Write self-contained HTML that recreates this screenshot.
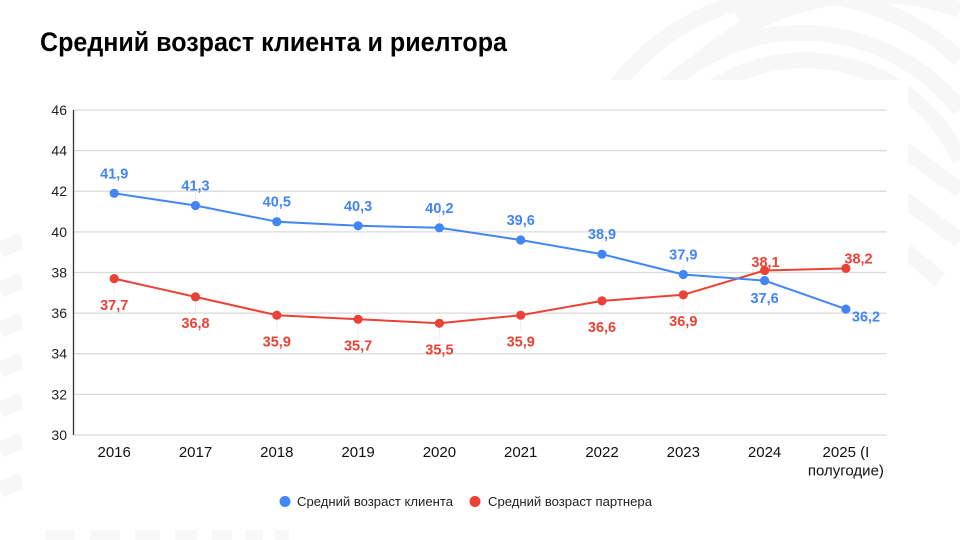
<!DOCTYPE html>
<html>
<head>
<meta charset="utf-8">
<style>
html,body{margin:0;padding:0;background:#fff;}
svg{display:block;}
</style>
</head>
<body>
<svg width="960" height="540" viewBox="0 0 960 540" xmlns="http://www.w3.org/2000/svg" font-family="'Liberation Sans', Arial, sans-serif">
  <!-- faint decorative background -->
  <g fill="none" stroke="#f7f7f7" stroke-width="16">
    <path d="M600,110 A230,230 0 0 1 960,60"/>
    <path d="M620,150 A200,200 0 0 1 960,110"/>
    <path d="M640,190 A170,170 0 0 1 960,160"/>
    <path d="M700,60 A260,260 0 0 1 960,10"/>
    <path d="M740,20 A280,280 0 0 1 960,-30"/>
    <path d="M905,150 L960,190"/>
    <path d="M905,200 L960,240"/>
    <path d="M905,250 L940,280"/>
    <path d="M0,250 L22,240"/>
    <path d="M0,290 L22,280"/>
    <path d="M0,330 L22,320"/>
    <path d="M0,370 L22,360"/>
    <path d="M0,410 L22,400"/>
    <path d="M0,450 L22,440"/>
    <path d="M0,490 L22,480"/>
  </g>
  <g fill="#f8f8f8">
    <rect x="45" y="530" width="30" height="10"/>
    <rect x="90" y="530" width="30" height="10"/>
    <rect x="135" y="530" width="25" height="10"/>
    <rect x="175" y="530" width="22" height="10"/>
    <rect x="212" y="530" width="20" height="10"/>
    <rect x="245" y="530" width="18" height="10"/>
    <rect x="275" y="530" width="14" height="10"/>
  </g>
  <!-- white chart box -->
  <rect x="22" y="80" width="886" height="449" fill="#fff"/>

  <!-- title -->
  <text x="40" y="51" font-size="26.5" font-weight="bold" fill="#000" textLength="467" lengthAdjust="spacingAndGlyphs">Средний возраст клиента и риелтора</text>

  <!-- gridlines -->
  <g stroke="#dadada" stroke-width="1.3">
    <line x1="73.5" y1="110" x2="886.5" y2="110"/>
    <line x1="73.5" y1="150.6" x2="886.5" y2="150.6"/>
    <line x1="73.5" y1="191.25" x2="886.5" y2="191.25"/>
    <line x1="73.5" y1="231.9" x2="886.5" y2="231.9"/>
    <line x1="73.5" y1="272.5" x2="886.5" y2="272.5"/>
    <line x1="73.5" y1="313.1" x2="886.5" y2="313.1"/>
    <line x1="73.5" y1="353.75" x2="886.5" y2="353.75"/>
    <line x1="73.5" y1="394.4" x2="886.5" y2="394.4"/>
    <line x1="73.5" y1="435" x2="886.5" y2="435"/>
  </g>
  <line x1="73.5" y1="110" x2="73.5" y2="435" stroke="#333" stroke-width="1.3"/>

  <!-- y tick labels -->
  <g font-size="14" fill="#222" text-anchor="end">
    <text x="67" y="115">46</text>
    <text x="67" y="155.6">44</text>
    <text x="67" y="196.2">42</text>
    <text x="67" y="236.9">40</text>
    <text x="67" y="277.5">38</text>
    <text x="67" y="318.1">36</text>
    <text x="67" y="358.7">34</text>
    <text x="67" y="399.4">32</text>
    <text x="67" y="440">30</text>
  </g>

  <!-- x labels -->
  <g font-size="15" fill="#111" text-anchor="middle">
    <text x="114.2" y="457">2016</text>
    <text x="195.5" y="457">2017</text>
    <text x="276.8" y="457">2018</text>
    <text x="358.1" y="457">2019</text>
    <text x="439.4" y="457">2020</text>
    <text x="520.7" y="457">2021</text>
    <text x="602.0" y="457">2022</text>
    <text x="683.3" y="457">2023</text>
    <text x="764.6" y="457">2024</text>
    <text x="845.9" y="457">2025 (I</text>
    <text x="845.9" y="475.5">полугодие)</text>
  </g>

  <!-- leader lines -->
  <g stroke="#eeeeee" stroke-width="1">
    <line x1="114.2" y1="178" x2="114.2" y2="189"/>
    <line x1="195.5" y1="190" x2="195.5" y2="201"/>
    <line x1="276.8" y1="206" x2="276.8" y2="217"/>
    <line x1="358.1" y1="210" x2="358.1" y2="221"/>
    <line x1="439.4" y1="212" x2="439.4" y2="223"/>
    <line x1="520.7" y1="224" x2="520.7" y2="235"/>
    <line x1="602.0" y1="238" x2="602.0" y2="249"/>
    <line x1="683.3" y1="259" x2="683.3" y2="270"/>
    <line x1="114.2" y1="283" x2="114.2" y2="294"/>
    <line x1="195.5" y1="301" x2="195.5" y2="312"/>
    <line x1="276.8" y1="320" x2="276.8" y2="331"/>
    <line x1="358.1" y1="324" x2="358.1" y2="335"/>
    <line x1="439.4" y1="328" x2="439.4" y2="339"/>
    <line x1="520.7" y1="320" x2="520.7" y2="331"/>
    <line x1="602.0" y1="305" x2="602.0" y2="316"/>
    <line x1="683.3" y1="299" x2="683.3" y2="310"/>
  </g>

  <!-- red series -->
  <polyline fill="none" stroke="#ea4335" stroke-width="2" stroke-linejoin="round"
    points="114.2,278.6 195.5,296.9 276.8,315.2 358.1,319.2 439.4,323.3 520.7,315.2 602.0,300.9 683.3,294.8 764.6,270.5 845.9,268.4"/>
  <g fill="#ea4335">
    <circle cx="114.2" cy="278.6" r="4.6"/>
    <circle cx="195.5" cy="296.9" r="4.6"/>
    <circle cx="276.8" cy="315.2" r="4.6"/>
    <circle cx="358.1" cy="319.2" r="4.6"/>
    <circle cx="439.4" cy="323.3" r="4.6"/>
    <circle cx="520.7" cy="315.2" r="4.6"/>
    <circle cx="602.0" cy="300.9" r="4.6"/>
    <circle cx="683.3" cy="294.8" r="4.6"/>
    <circle cx="764.6" cy="270.5" r="4.6"/>
    <circle cx="845.9" cy="268.4" r="4.6"/>
  </g>

  <!-- blue series -->
  <polyline fill="none" stroke="#4285f4" stroke-width="2" stroke-linejoin="round"
    points="114.2,193.3 195.5,205.5 276.8,221.7 358.1,225.8 439.4,227.8 520.7,240.0 602.0,254.2 683.3,274.5 764.6,280.6 845.9,309.1"/>
  <g fill="#4285f4">
    <circle cx="114.2" cy="193.3" r="4.6"/>
    <circle cx="195.5" cy="205.5" r="4.6"/>
    <circle cx="276.8" cy="221.7" r="4.6"/>
    <circle cx="358.1" cy="225.8" r="4.6"/>
    <circle cx="439.4" cy="227.8" r="4.6"/>
    <circle cx="520.7" cy="240.0" r="4.6"/>
    <circle cx="602.0" cy="254.2" r="4.6"/>
    <circle cx="683.3" cy="274.5" r="4.6"/>
    <circle cx="764.6" cy="280.6" r="4.6"/>
    <circle cx="845.9" cy="309.1" r="4.6"/>
  </g>

  <!-- blue labels -->
  <g font-size="14.5" font-weight="bold" fill="#4285f4" text-anchor="middle">
    <text x="114.2" y="178.3">41,9</text>
    <text x="195.5" y="190.5">41,3</text>
    <text x="276.8" y="206.7">40,5</text>
    <text x="358.1" y="210.8">40,3</text>
    <text x="439.4" y="212.8">40,2</text>
    <text x="520.7" y="225">39,6</text>
    <text x="602.0" y="239.2">38,9</text>
    <text x="683.3" y="259.5">37,9</text>
    <text x="764.6" y="303">37,6</text>
    <text x="866" y="321.5">36,2</text>
  </g>

  <!-- red labels -->
  <g font-size="14.5" font-weight="bold" fill="#ea4335" text-anchor="middle">
    <text x="114.2" y="310">37,7</text>
    <text x="195.5" y="328.2">36,8</text>
    <text x="276.8" y="346.5">35,9</text>
    <text x="358.1" y="350.5">35,7</text>
    <text x="439.4" y="354.6">35,5</text>
    <text x="520.7" y="346.5">35,9</text>
    <text x="602.0" y="332.2">36,6</text>
    <text x="683.3" y="326.1">36,9</text>
    <text x="765.5" y="267">38,1</text>
    <text x="858.5" y="263.5">38,2</text>
  </g>

  <!-- legend -->
  <circle cx="285" cy="501.5" r="5.5" fill="#4285f4"/>
  <text x="297" y="506" font-size="13" fill="#222" textLength="156" lengthAdjust="spacingAndGlyphs">Средний возраст клиента</text>
  <circle cx="475" cy="501.5" r="5.5" fill="#ea4335"/>
  <text x="488" y="506" font-size="13" fill="#222" textLength="164" lengthAdjust="spacingAndGlyphs">Средний возраст партнера</text>
</svg>
</body>
</html>
